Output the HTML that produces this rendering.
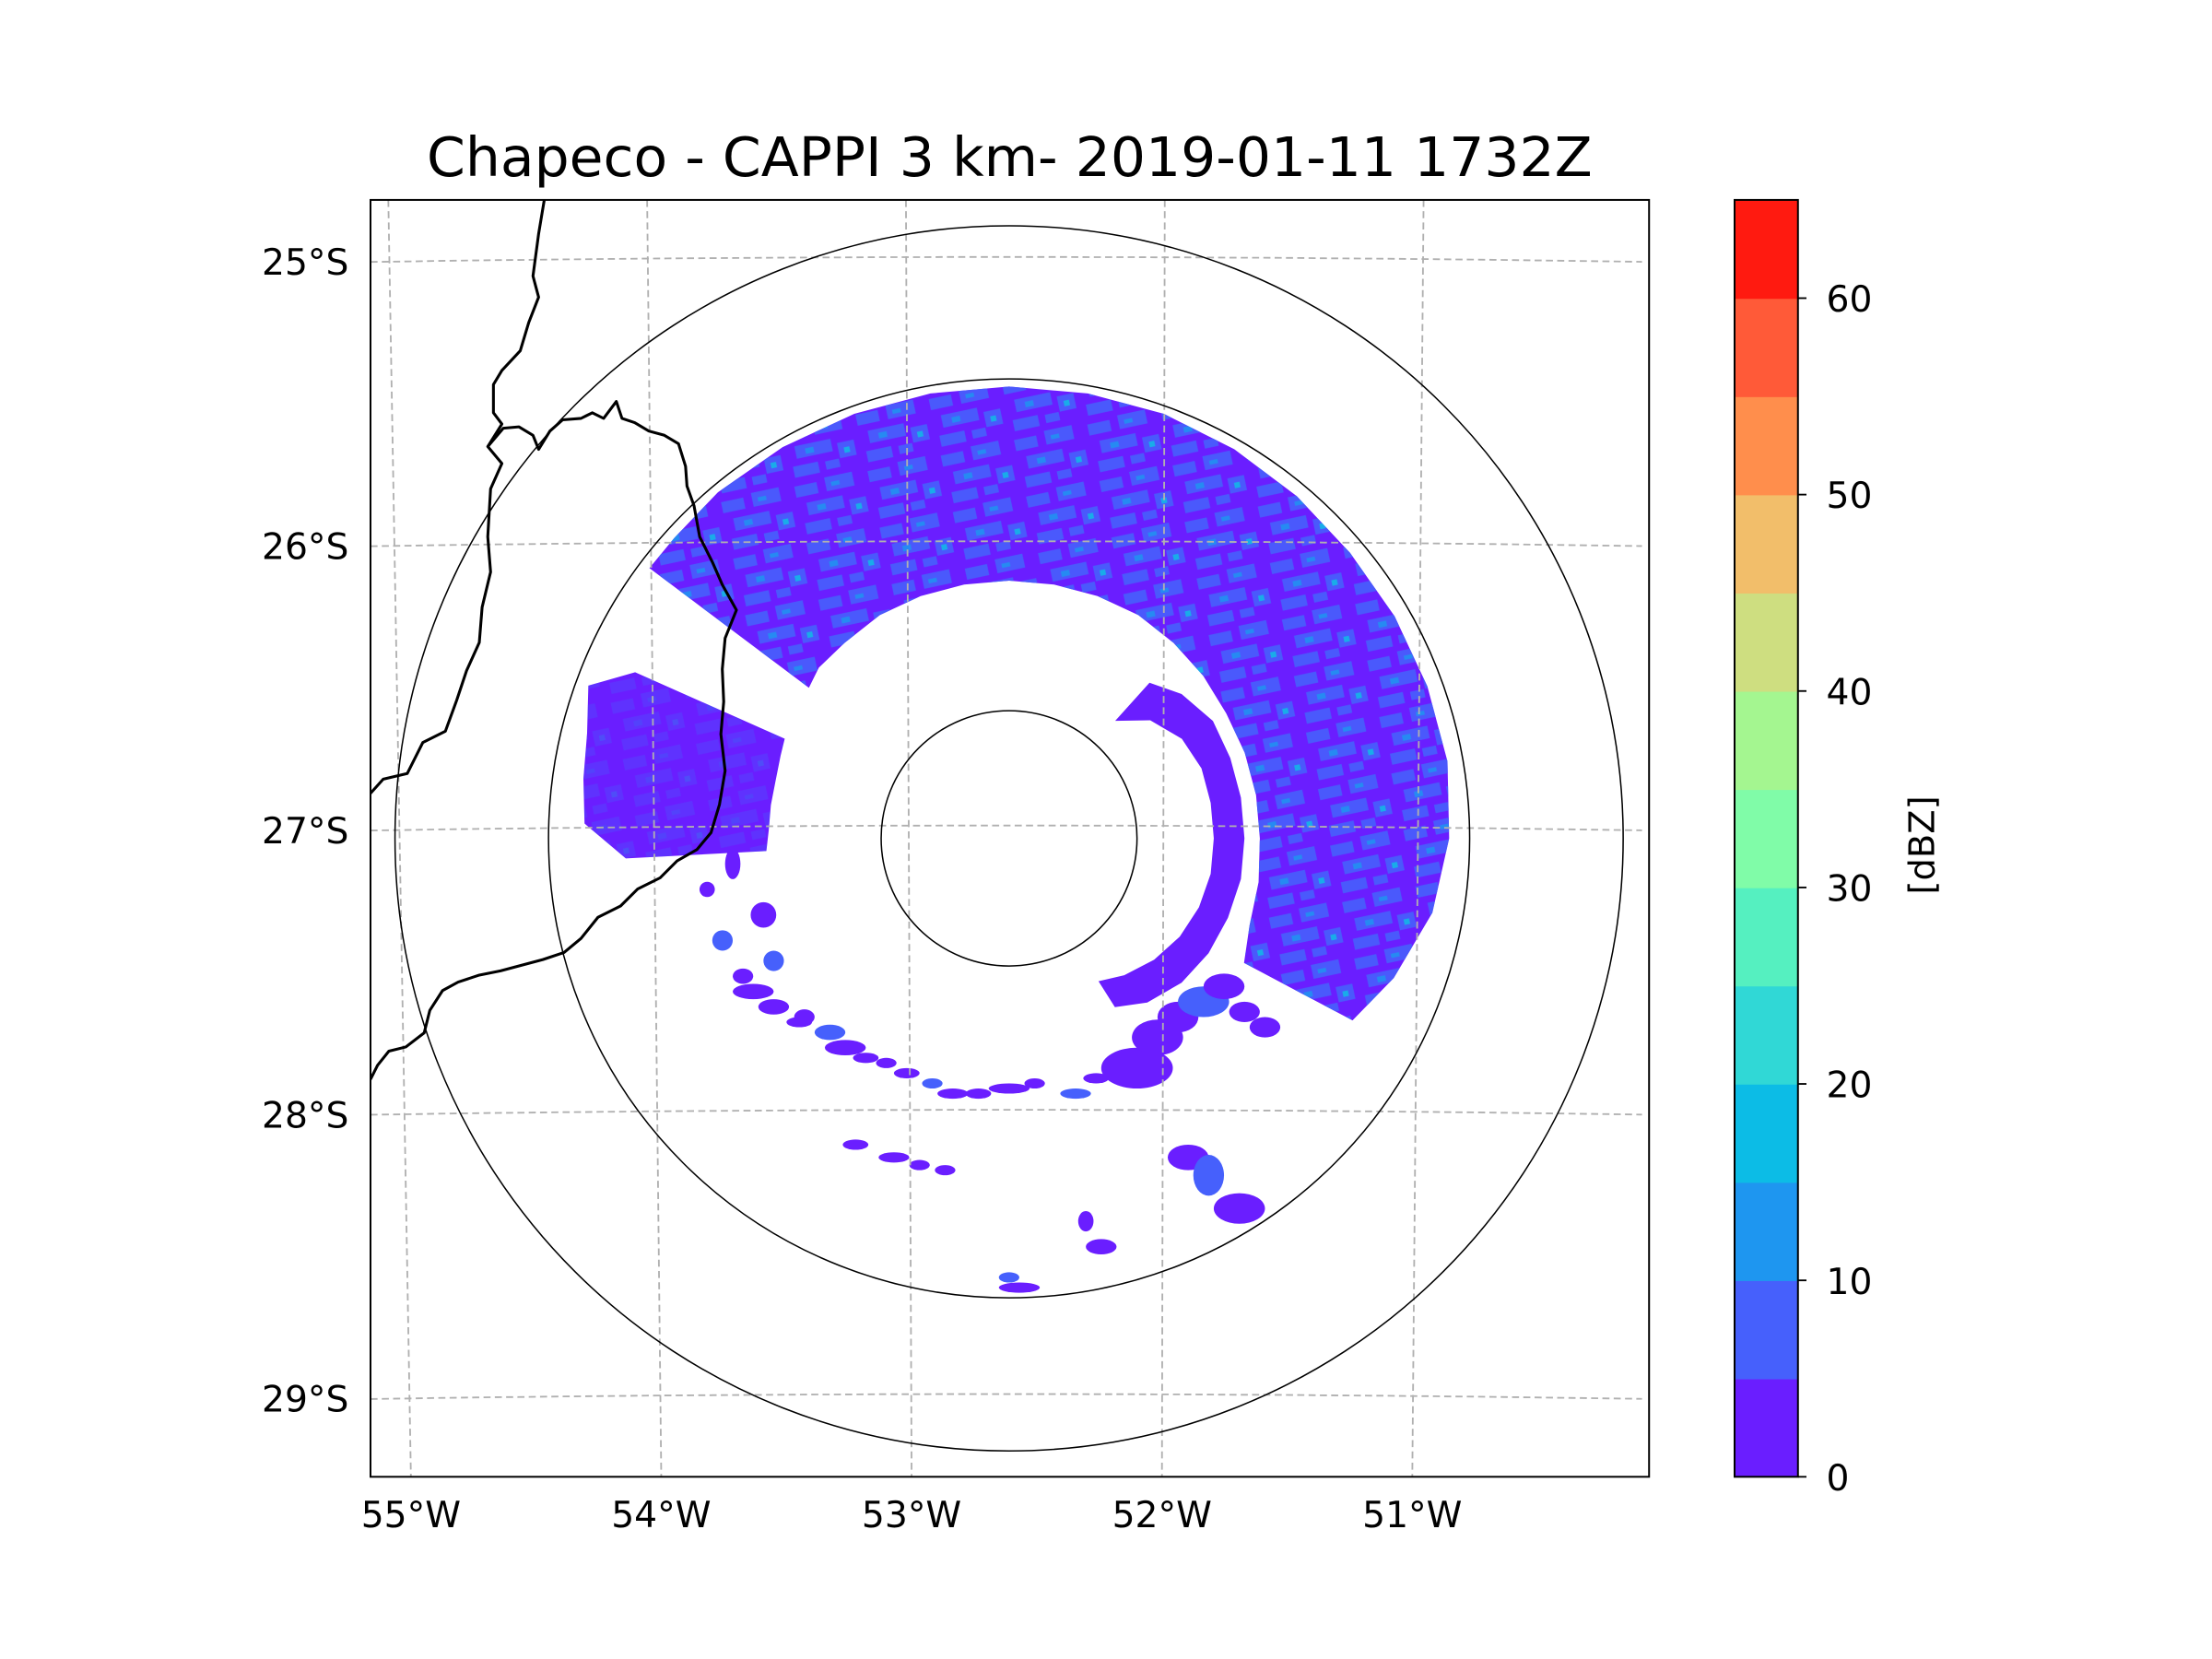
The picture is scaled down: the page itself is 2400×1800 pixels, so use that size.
<!DOCTYPE html>
<html><head><meta charset="utf-8"><style>
html,body{margin:0;padding:0;background:#fff;}
svg{display:block;font-family:"DejaVu Sans","Liberation Sans",sans-serif;}
</style></head><body>
<svg id="fig" width="2400" height="1800" viewBox="0 0 1560 1170" xmlns="http://www.w3.org/2000/svg">
<defs>
<clipPath id="axclip"><rect x="263" y="141" width="905" height="906"/></clipPath>
<pattern id="mottle" width="53" height="41" patternUnits="userSpaceOnUse" patternTransform="rotate(-12)">
<rect x="2" y="3" width="16" height="8" fill="#4660fc"/>
<rect x="24" y="1" width="20" height="10" fill="#4660fc"/>
<rect x="8" y="16" width="26" height="9" fill="#4660fc"/>
<rect x="38" y="20" width="12" height="11" fill="#4660fc"/>
<rect x="4" y="30" width="18" height="8" fill="#4660fc"/>
<rect x="27" y="31" width="10" height="6" fill="#4660fc"/>
<rect x="15" y="19" width="6" height="4" fill="#1e96f0"/>
<rect x="42" y="24" width="4" height="4" fill="#10bce6"/>
<rect x="28" y="5" width="6" height="3" fill="#1e96f0"/>
</pattern>
</defs>
<rect width="1560" height="1170" fill="#fff"/>
<text x="712" y="124" font-size="38" text-anchor="middle" textLength="822" lengthAdjust="spacingAndGlyphs">Chapeco - CAPPI 3 km- 2019-01-11 1732Z</text>
<g transform="translate(261.3,141) scale(0.99635,0.99393) translate(-263,-141)">
<g id="plot" clip-path="url(#axclip)"></g>
<rect x="263" y="141" width="905" height="906" fill="none" stroke="#000" stroke-width="1.3"/>
</g>
<g id="ticks"></g>
<g id="cbar"></g>
<text transform="translate(1364,596) rotate(-90)" font-size="25" text-anchor="middle">[dBZ]</text>
</svg>
<script>
// ---- data ----
const latLabels = ["25°S","26°S","27°S","28°S","29°S"];
const latValues = [25,26,27,28,29];
const lonLabels = ["55°W","54°W","53°W","52°W","51°W"];
const lonValues = [55,54,53,52,51];
const levels = [0,5,10,15,20,25,30,35,40,45,50,55,60,65];
const levelColors = ["#6a1eff","#4660fc","#1e96f0","#0cbce6","#30d8d6","#55f0c0","#80fca8","#a4f690","#cede80","#f2be6a","#ff8e4c","#ff5a38","#ff1a10"];
const cbarTicks = [0,10,20,30,40,50,60];
const ringRadiiKm = [50,180,240];
// radar echo band (azimuth deg math-convention, radius km)
const bandAz = [143,138,130,120,110,100,90,80,70,60,50,40,30,20,10,0,-10,-20,-28];
const bandOuter = [176,176,177,177,177,177,177,177,177,176,175,174,174,174,174,172,168,160,152];
const bandInner = [98,100,100,101,101,101,101,101,101,101,100,99,98,98,98,98,99,100,104];
const westAz = [156,160,166,172,178,183];
const westOuter = [160,175,170,168,166,150];
const westInner = [96,95,94,94,94,95];
const cresAz = [48,40,30,20,10,0,-10,-20,-30,-40,-50,-58];
const cresOuter = [82,88,92,92,92,92,92,91,90,88,84,78];
const cresInner = [62,72,78,80,80,80,80,79,77,74,70,66];
// scattered echoes: east km, north km, half-width km, half-height km
const cellsX = [-100,-92,-82,-70,-64,-56,-48,-40,-30,-22,-12,0,10,26,34,50,58,66,76,84,92,100,70,78,90,30,36,4,0,-60,-45,-35,-25,-112,-118,-108,-96,-104,-92,-80];
const cellsY = [-60,-66,-72,-76,-82,-86,-88,-92,-96,-100,-100,-98,-96,-100,-94,-90,-78,-70,-64,-58,-68,-74,-125,-132,-145,-150,-160,-176,-172,-120,-125,-128,-130,-40,-20,-10,-30,-54,-48,-70];
const cellsW = [8,6,5,6,8,5,4,5,4,6,5,8,4,6,5,14,10,8,10,8,6,6,8,6,10,3,6,8,4,5,6,4,4,4,3,3,5,4,4,4];
const cellsH = [3,3,2,3,3,2,2,2,2,2,2,2,2,2,2,8,7,6,6,5,4,4,5,8,6,4,3,2,2,2,2,2,2,4,3,6,5,3,4,3];

// ---- axes functions (inner plot coordinates) ----
const cx = 715, cy = 594, kmPx = 326/180;
function px(kmE){ return cx + kmE*kmPx; }
function py(kmN){ return cy - kmN*kmPx; }
function polar(az, r){ const a = az*Math.PI/180; return [px(r*Math.cos(a)), py(r*Math.sin(a))]; }
function latY(lat, x){ const base = 185 + (lat-25)*201.7; const t=(x-715)/452; return base - 3.5*(1 - t*t); }
function lonX(lon, y){ const top = 642 + (53-lon)*183.2; const slope = (53-lon)*-6 + 4; return top + slope*(y-141)/906; }
// map inner coords to figure coords (same as group transform)
function figX(x){ return 261.3 + (x-263)*0.99635; }
function figY(y){ return 141 + (y-141)*0.99393; }

const NS = "http://www.w3.org/2000/svg";
function mk(tag, attrs, parent){ const e=document.createElementNS(NS,tag); for(const k in attrs) e.setAttribute(k,attrs[k]); parent.appendChild(e); return e; }
const plot = document.getElementById("plot");

function sectorPath(az, outer, inner){
  let d=""; az.forEach((a,i)=>{ const p=polar(a,outer[i]); d+=(i?"L":"M")+p[0].toFixed(1)+","+p[1].toFixed(1); });
  for(let i=az.length-1;i>=0;i--){ const p=polar(az[i],inner[i]); d+="L"+p[0].toFixed(1)+","+p[1].toFixed(1); }
  return d+"Z";
}
const band = mk("path",{d:sectorPath(bandAz,bandOuter,bandInner),fill:"#6a1eff"},plot);


const bandTex = mk("path",{d:sectorPath(bandAz,bandOuter,bandInner),fill:"url(#mottle)",opacity:"0.9"},plot);


const west = mk("path",{d:sectorPath(westAz,westOuter,westInner),fill:"#6a1eff"},plot);


const westTex = mk("path",{d:sectorPath(westAz,westOuter,westInner),fill:"url(#mottle)",opacity:"0.3"},plot);


const cres = mk("path",{d:sectorPath(cresAz,cresOuter,cresInner),fill:"#6a1eff"},plot);


cellsX.forEach((v,i)=>{
  const c = mk("ellipse",{cx:px(v),cy:py(cellsY[i]),rx:cellsW[i]*kmPx,ry:cellsH[i]*kmPx,fill:i%5===3?"#4660fc":"#6a1eff"},plot);
  
  
});

latValues.forEach(lat=>{
  let d=""; for(let x=263;x<=1168;x+=15){ d+=(x===263?"M":"L")+x+","+latY(lat,x).toFixed(1); }
  const g = mk("path",{d:d,fill:"none",stroke:"#b0b0b0","stroke-width":"1.2","stroke-dasharray":"5,3"},plot);
  
  
});
lonValues.forEach(lon=>{
  const g = mk("line",{x1:lonX(lon,141),y1:141,x2:lonX(lon,1047),y2:1047,stroke:"#b0b0b0","stroke-width":"1.2","stroke-dasharray":"5,3"},plot);
  
  
});
ringRadiiKm.forEach(r=>{
  const c = mk("circle",{cx:cx,cy:cy,r:r*kmPx,fill:"none",stroke:"#000","stroke-width":"1"},plot);
  
  
});
const border1 = "M386,141 L382,165 L378,195 L382,210 L375,228 L369,248 L356,262 L350,272 L350,292 L356,300 L346,316 L356,328 L348,346 L346,380 L348,405 L342,430 L340,455 L331,475 L324,496 L316,518 L300,526 L289,548 L272,552 L263,562";
const border2 = "M346,316 L357,303 L368,302 L378,308 L382,318 L390,305 L399,297 L412,296 L420,292 L428,296 L437,284 L441,296 L450,299 L460,305 L471,308 L481,314 L486,330 L487,344 L492,358 L496,380 L505,398 L512,414 L522,432 L514,452 L512,474 L513,497 L511,520 L514,546 L510,570 L504,590 L494,602 L480,610 L468,622 L452,630 L440,642 L424,650 L412,665 L400,675 L385,680 L370,684 L355,688 L340,691 L325,696 L314,702 L305,716 L301,732 L288,742 L276,745 L268,755 L263,765";
[border1,border2].forEach((d,i)=>{
  const b = mk("path",{d:d,fill:"none",stroke:"#000","stroke-width":"2","stroke-linejoin":"round"},plot);
  
  
});

const ticks = document.getElementById("ticks");
latLabels.forEach((t,i)=>{
  const e = mk("text",{x:246,y:(figY(latY(latValues[i],263))+9).toFixed(1),"font-size":"25.5","text-anchor":"end"},ticks);
  e.textContent = t;
  
  
});
lonLabels.forEach((t,i)=>{
  const e = mk("text",{x:figX(lonX(lonValues[i],1047)).toFixed(1),y:1077,"font-size":"25.5","text-anchor":"middle"},ticks);
  e.textContent = t;
  
  
});

const cb = document.getElementById("cbar");
const cbX=1223.3, cbW=44.7, cbTop=141, cbBot=1041.5;
function cbY(v){ return cbBot - (v-levels[0])/(levels[levels.length-1]-levels[0])*(cbBot-cbTop); }
levelColors.forEach((c,i)=>{
  const r = mk("rect",{x:cbX,y:cbY(levels[i+1]),width:cbW,height:cbY(levels[i])-cbY(levels[i+1])+0.5,fill:c},cb);
  
  
});
const fr = mk("rect",{x:cbX,y:cbTop,width:cbW,height:cbBot-cbTop,fill:"none",stroke:"#000","stroke-width":"1.3"},cb);


cbarTicks.forEach(v=>{
  const y=cbY(v);
  const l = mk("line",{x1:cbX+cbW,y1:y,x2:cbX+cbW+6,y2:y,stroke:"#000","stroke-width":"1.2"},cb);
  
  
  const e = mk("text",{x:1288,y:y+9.5,"font-size":"25.5"},cb);
  e.textContent = v;
  
  
});
</script>
</body></html>
